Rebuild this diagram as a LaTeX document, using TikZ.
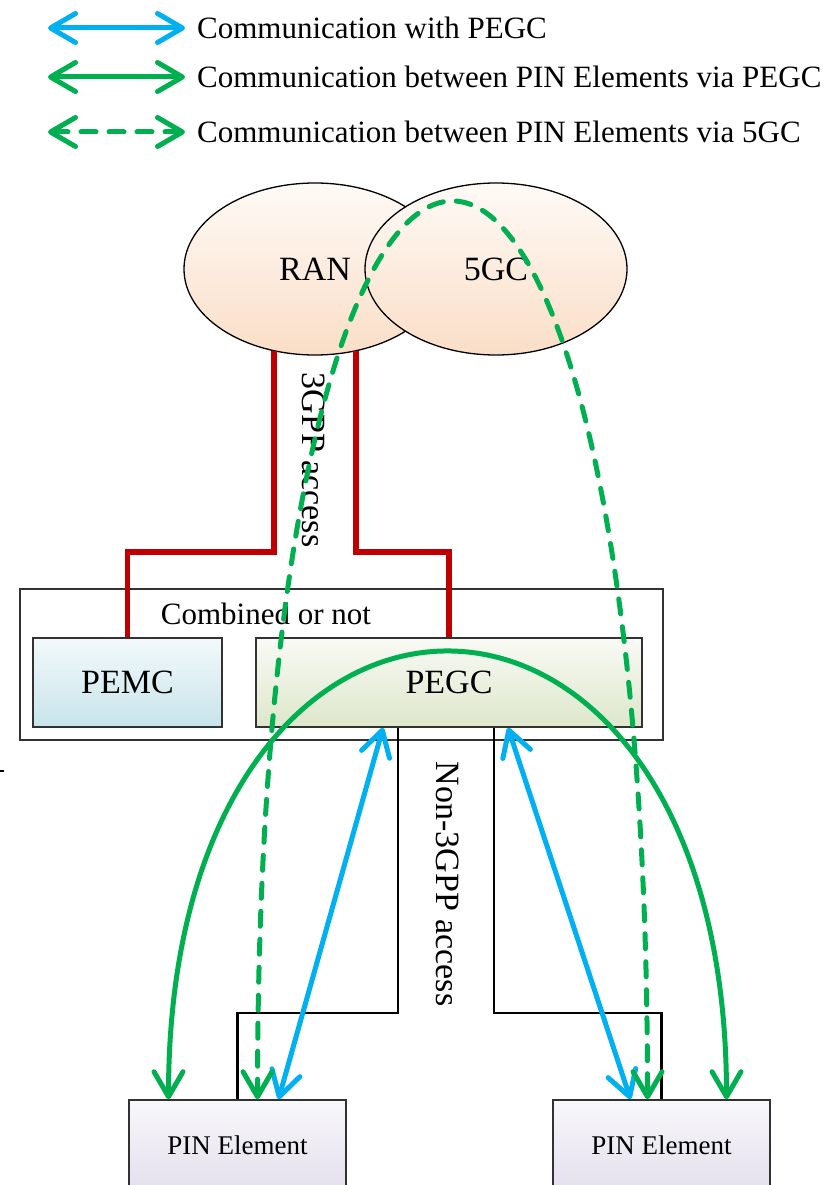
\documentclass[tikz,border=0pt]{standalone}
\usepackage{fontspec}
\setmainfont{Liberation Serif}
\usepackage{tikz}
\usepackage{xcolor}
\usetikzlibrary{shapes.geometric, arrows.meta}
\definecolor{pegcblue}{RGB}{0,176,240}
\definecolor{pingreen}{RGB}{0,176,80}
\definecolor{accessred}{RGB}{192,0,0}
\definecolor{edgegray}{RGB}{50,50,50}
\definecolor{nettop}{RGB}{254,250,246}
\definecolor{netbot}{RGB}{250,222,199}
\definecolor{pemctop}{RGB}{243,249,251}
\definecolor{pemcbot}{RGB}{200,228,235}
\definecolor{pegctop}{RGB}{249,250,245}
\definecolor{pegcbot}{RGB}{221,231,203}
\definecolor{pintop}{RGB}{248,248,250}
\definecolor{pinbot}{RGB}{228,223,237}

\begin{document}
\begin{tikzpicture}[x=1pt, y=-1pt,
        >={Straight Barb[length=25pt, width=29pt, round]},
        bigtext/.style={font=\fontsize{34}{40}\selectfont, inner sep=0pt},
        legendtext/.style={font=\fontsize{31}{37}\selectfont, anchor=west, inner sep=0pt},
        netellipse/.style={ellipse, draw, line width=1.3pt, top color=nettop, bottom color=netbot, minimum width=262pt, minimum height=172pt, inner sep=0pt, font=\fontsize{34}{40}\selectfont},
        funcbox/.style={rectangle, draw=edgegray, line width=1.6pt, minimum height=89pt, inner sep=0pt, font=\fontsize{34}{40}\selectfont},
        pinbox/.style={funcbox, top color=pintop, bottom color=pinbot, minimum width=217pt, minimum height=90pt, font=\fontsize{27}{32}\selectfont},
        redlink/.style={draw=accessred, line width=5.5pt},
        wire/.style={draw, line width=2.2pt},
        withpegc/.style={<->, draw=pegcblue, line width=5pt},
        viapegc/.style={<->, draw=pingreen, line width=5pt},
        viafivegc/.style={viapegc, dash pattern=on 15pt off 13pt, line cap=round}]
    \useasboundingbox (0,0) rectangle (833,1185);

    \coordinate (key1) at (48,28);
    \coordinate (key2) at (48,77);
    \coordinate (key3) at (48,132);
    \node[legendtext] (leg1) at (197,28) {Communication with PEGC};
    \node[legendtext] (leg2) at (197,77) {Communication between PIN Elements via PEGC};
    \node[legendtext] (leg3) at (197,132) {Communication between PIN Elements via 5GC};
    \draw[withpegc] (key1) -- ([xshift=-12pt]leg1.west);
    \draw[viapegc] (key2) -- ([xshift=-12pt]leg2.west);
    \draw[viafivegc] (key3) -- ([xshift=-12pt]leg3.west);

    \node[netellipse] (ran) at (315,269) {RAN};
    \node[netellipse] (fivegc) at (496,269) {5GC};
    \coordinate (ranL) at (274,351);
    \coordinate (ranR) at (356,351);

    \node[rectangle, draw=edgegray, line width=1.6pt, minimum width=643pt, minimum height=151pt, inner sep=0pt] (combined) at (341.5,664.5) {};
    \node[bigtext, font=\fontsize{31}{37}\selectfont] (combinedtext) at (266,614) {Combined or not};
    \node[funcbox, top color=pemctop, bottom color=pemcbot, minimum width=189pt] (pemc) at (127.5,682.5) {PEMC};
    \node[funcbox, top color=pegctop, bottom color=pegcbot, minimum width=386pt] (pegc) at (449,682.5) {PEGC};
    \node[pinbox] (pinL) at (237.5,1145) {PIN Element};
    \node[pinbox] (pinR) at (661.5,1145) {PIN Element};

    \draw[redlink] (pemc.north) -- ++(0,-85) -| (ranL);
    \draw[redlink] (pegc.north) -- ++(0,-85) -| (ranR);
    \draw[wire] ([xshift=-51pt]pegc.south) -- ++(0,285) -| (pinL.north);
    \draw[wire] ([xshift=45pt]pegc.south) -- ++(0,285) -| (pinR.north);

    \node[bigtext, rotate=-90] (gppaccess) at (314,460) {3GPP access};
    \node[bigtext, rotate=-90] (nongppaccess) at (448,884) {Non-3GPP access};

    \draw[withpegc] ([xshift=-66pt]pegc.south) -- ([xshift=41pt]pinL.north);
    \draw[withpegc] ([xshift=59pt]pegc.south) -- ([xshift=-31pt]pinR.north);
    \draw[viapegc] ([xshift=-69pt]pinL.north) .. controls +(0,-596) and +(0,-596) .. ([xshift=65pt]pinR.north);
    \draw[viafivegc] ([xshift=20pt]pinL.north) .. controls +(0,-1196) and +(0,-1196) .. ([xshift=-14pt]pinR.north);

    \draw[line width=1.5pt] (0,771) -- (4,771);
\end{tikzpicture}
\end{document}
